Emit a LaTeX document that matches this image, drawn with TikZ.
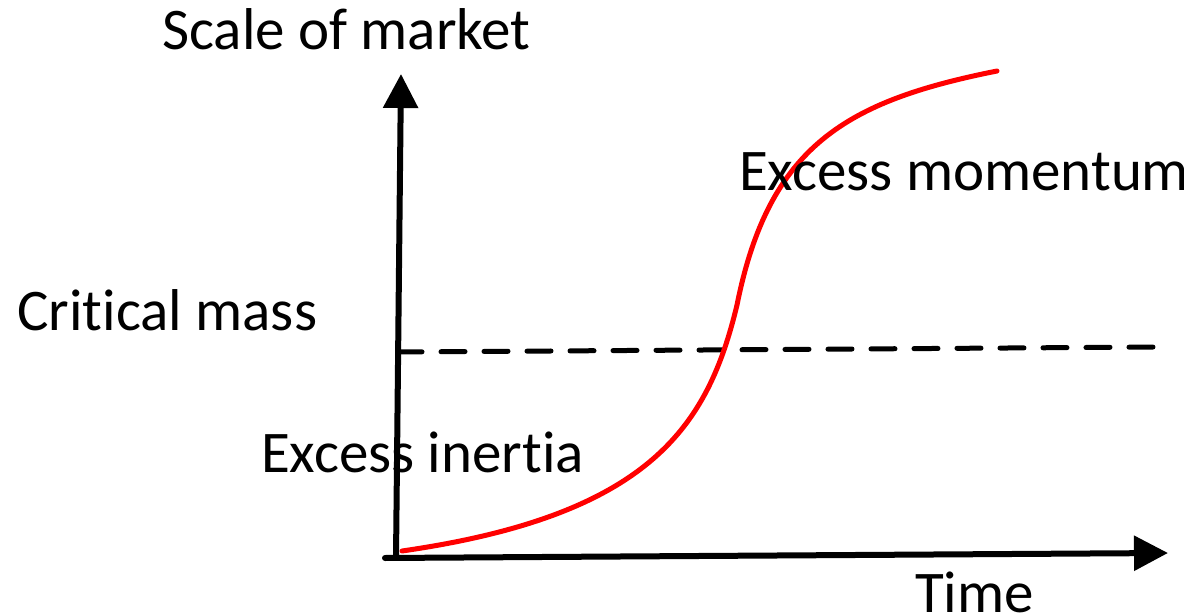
\documentclass[tikz,border=0pt]{standalone}
\usepackage{fontspec}
\setmainfont{Carlito}[Ligatures=NoCommon]
\usetikzlibrary{arrows.meta}
\begin{document}
\begin{tikzpicture}[x=1pt,y=-1pt,
  lbl/.style={anchor=base west,inner sep=0pt,font=\fontsize{59}{70}\selectfont},
  axis/.style={line width=6pt,-{Triangle[length=34pt,width=34pt]}},
  crit/.style={line width=5pt,dash pattern=on 24pt off 19pt,line cap=round},
  scurve/.style={line width=5pt,red,line cap=round}]
\useasboundingbox (0,0) rectangle (1184,615);
\coordinate (o) at (396,558);
\coordinate (ol) at (385,558);
\coordinate (ytip) at (401,74);
\coordinate (xtip) at (1168,553);
\coordinate (dl) at (398,352);
\coordinate (dr) at (1160,347);
\coordinate (cs) at (402,551);
\coordinate (cm) at (737,305);
\coordinate (ce) at (997,71);
\draw[axis] (o) -- (ytip);
\draw[axis,line cap=round] (ol) -- (xtip);
\draw[crit] (dl) -- (dr);
\draw[scurve] (cs) .. controls (652,515) and (708,425) .. (cm)
  .. controls (769,145) and (847,101) .. (ce);
\node[lbl] (ylabel) at (162,50) {Scale of market};
\node[lbl] (xlabel) at (915,612) {Time};
\node[lbl] (critm) at (17,330) {Critical mass};
\node[lbl] (momentum) at (739,190) {Excess momentum};
\node[lbl] (inertia) at (261,472) {Excess inertia};
\end{tikzpicture}
\end{document}
